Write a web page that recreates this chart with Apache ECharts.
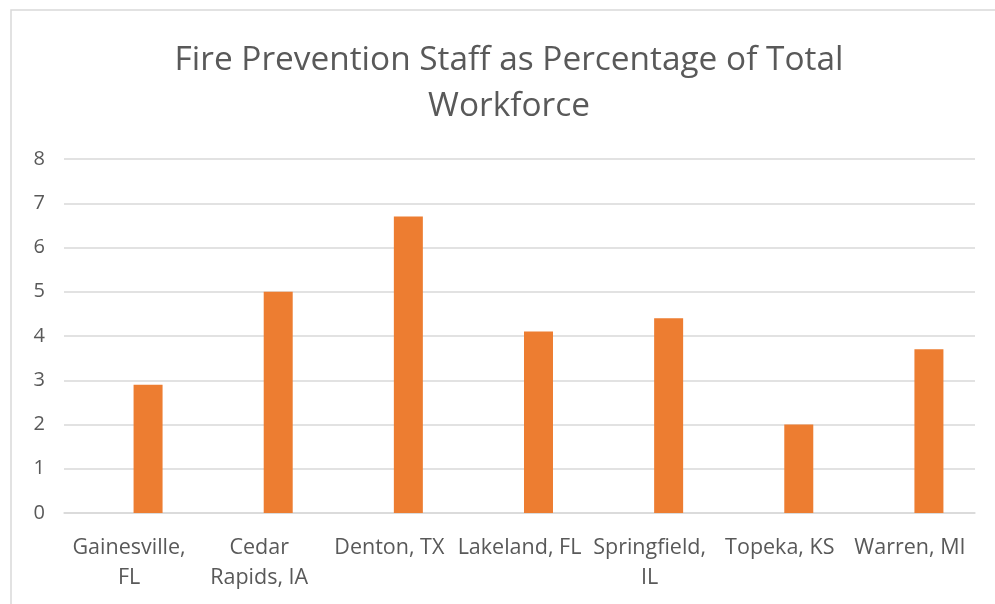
<!DOCTYPE html>
<html>
<head>
<meta charset="utf-8">
<script src="https://cdn.jsdelivr.net/npm/echarts@6/dist/echarts.min.js"></script>
<style>
  html, body { margin: 0; padding: 0; background: #ffffff; }
  #chart { width: 995px; height: 604px; }
</style>
</head>
<body>
<div id="chart"></div>
<script>
// Fire prevention staff share by city
const chartTitle = 'Fire Prevention Staff as Percentage of Total\nWorkforce';
const cities = ['Gainesville,\nFL', 'Cedar\nRapids, IA', 'Denton, TX', 'Lakeland, FL', 'Springfield,\nIL', 'Topeka, KS', 'Warren, MI'];
const staffPercent = [2.9, 5.0, 6.7, 4.1, 4.4, 2.0, 3.7];
const yTicks = [0, 1, 2, 3, 4, 5, 6, 7, 8];

const textColor = '#595959';
const fontFamily = '"Open Sans", sans-serif';

const chart = echarts.init(document.getElementById('chart'), null, { renderer: 'canvas' });
chart.setOption({
  backgroundColor: '#ffffff',
  animation: false,
  title: {
    text: chartTitle,
    left: 504,
    textAlign: 'center',
    top: 32,
    textStyle: { color: textColor, fontFamily: fontFamily, fontSize: 33.4, fontWeight: 'normal', lineHeight: 46 }
  },
  graphic: [{
    type: 'rect',
    shape: { x: 11, y: 10, width: 1100, height: 700 },
    style: { fill: 'none', stroke: '#d9d9d9', lineWidth: 1.5 },
    silent: true
  }],
  grid: { left: 64, right: 20, top: 159, bottom: 91, containLabel: false },
  xAxis: {
    type: 'category',
    data: cities,
    axisLine: { show: true, lineStyle: { color: '#d9d9d9', width: 1.5 } },
    axisTick: { show: false },
    axisLabel: {
      color: textColor, fontFamily: fontFamily, fontSize: 21.5, lineHeight: 30,
      margin: 20, interval: 0
    }
  },
  yAxis: {
    type: 'value',
    min: yTicks[0],
    max: yTicks[yTicks.length - 1],
    interval: 1,
    axisLine: { show: false },
    axisTick: { show: false },
    splitLine: { lineStyle: { color: '#d9d9d9', width: 1.5 } },
    axisLabel: { color: textColor, fontFamily: fontFamily, fontSize: 20, margin: 19, align: 'right' }
  },
  series: [
    {
      // empty leading slot of the cluster, so the bars sit right of each category centre
      type: 'bar',
      data: cities.map(() => null),
      barWidth: 29,
      barGap: '31%'
    },
    {
      type: 'bar',
      data: staffPercent,
      barWidth: 29,
      barGap: '31%',
      itemStyle: { color: '#ED7D31' }
    }
  ]
});
</script>
</body>
</html>
